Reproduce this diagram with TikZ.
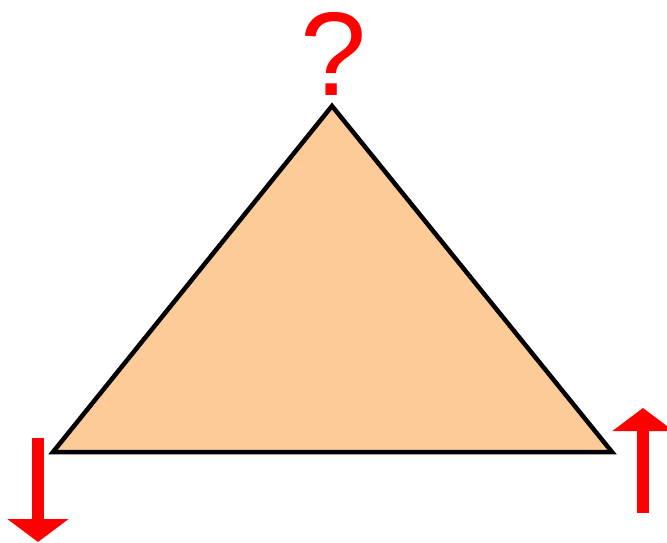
\documentclass[tikz,border=0pt]{standalone}
\usepackage{fontspec}
\setmainfont{Liberation Sans}
\usepackage{xcolor}
\definecolor{peach}{HTML}{FDCB98}
\definecolor{hot}{HTML}{FF0000}
\usetikzlibrary{arrows.meta}
\tikzset{
  tri/.style={draw=black,fill=peach,line width=4.5pt,line join=miter},
  move/.style={draw=hot,line width=12pt,line cap=butt,-{Triangle[length=23pt,width=60pt]}},
  ask/.style={text=hot,inner sep=0pt,font=\fontsize{119}{119}\selectfont},
}
\begin{document}
\begin{tikzpicture}[x=1pt,y=-1pt]
\useasboundingbox (0,0) rectangle (667,542);
\coordinate (top) at (332,106);
\coordinate (bl) at (53,452);
\coordinate (br) at (612,452);
\draw[tri] (top) -- (bl) -- (br) -- cycle;
\node[ask,anchor=base] (q) at (334,95) {?};
% shifts of the two base corners
\coordinate (ls) at (38,438);
\coordinate (le) at (38,542);
\coordinate (rs) at (643,513);
\coordinate (re) at (643,408);
\draw[move] (ls) -- (le);
\draw[move] (rs) -- (re);
\end{tikzpicture}
\end{document}
